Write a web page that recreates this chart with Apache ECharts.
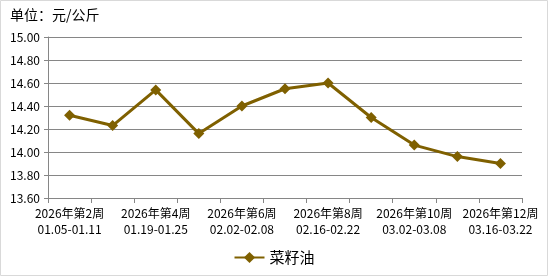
<!DOCTYPE html>
<html><head><meta charset="utf-8">
<script src="https://cdn.jsdelivr.net/npm/echarts@6/dist/echarts.min.js"></script>
<style>html,body{margin:0;padding:0;background:#fff}#c{width:548px;height:276px}</style>
</head><body><div id="c"></div>
<script>
const weeks = ['2026年第2周','2026年第3周','2026年第4周','2026年第5周','2026年第6周','2026年第7周','2026年第8周','2026年第9周','2026年第10周','2026年第11周','2026年第12周'];
const dates = ['01.05-01.11','01.12-01.18','01.19-01.25','01.26-02.01','02.02-02.08','02.09-02.15','02.16-02.22','02.23-03.01','03.02-03.08','03.09-03.15','03.16-03.22'];
const rapeseedOil = [14.32, 14.23, 14.54, 14.16, 14.40, 14.55, 14.60, 14.30, 14.06, 13.96, 13.90];
const seriesName = '菜籽油';
const unitText = '单位：元/公斤';
const categories = weeks.map((w, i) => w + '\n' + dates[i]);
const font = '"Noto Sans CJK SC", "DejaVu Sans", sans-serif';
const chart = echarts.init(document.getElementById('c'));
chart.setOption({
  animation: false,
  textStyle: {fontFamily: font},
  graphic: [
    {type: 'rect', shape: {x: 0.5, y: 0.5, width: 547, height: 275}, style: {fill: 'none', stroke: '#d9d9d9', lineWidth: 1}},
    {type: 'text', left: 10, top: 8, style: {text: unitText, font: '14px ' + font, fill: '#000'}}
  ],
  grid: {left: 48, right: 26, top: 37, bottom: 78},
  legend: {bottom: 6, left: 'center', itemWidth: 30, itemHeight: 14, itemGap: 6, textStyle: {fontSize: 15, color: '#000', fontFamily: font}, data: [seriesName]},
  xAxis: {
    type: 'category', data: categories, boundaryGap: true,
    axisLine: {lineStyle: {color: '#868686'}},
    axisTick: {show: true, length: 5, interval: 0, lineStyle: {color: '#868686'}},
    axisLabel: {interval: 1, color: '#000', fontSize: 12, lineHeight: 16, margin: 7, fontFamily: font}
  },
  yAxis: {
    type: 'value', min: 13.6, max: 15.0, interval: 0.2,
    axisLine: {show: true, lineStyle: {color: '#868686'}},
    axisTick: {show: true, length: 4, lineStyle: {color: '#868686'}},
    splitLine: {lineStyle: {color: '#868686'}},
    axisLabel: {color: '#000', fontSize: 12, margin: 8, formatter: v => v.toFixed(2), fontFamily: font}
  },
  series: [{
    name: seriesName, type: 'line', data: rapeseedOil,
    symbol: 'diamond', symbolSize: 11, showAllSymbol: true,
    lineStyle: {color: '#7f6000', width: 3},
    itemStyle: {color: '#7f6000'}
  }]
});
</script></body></html>
